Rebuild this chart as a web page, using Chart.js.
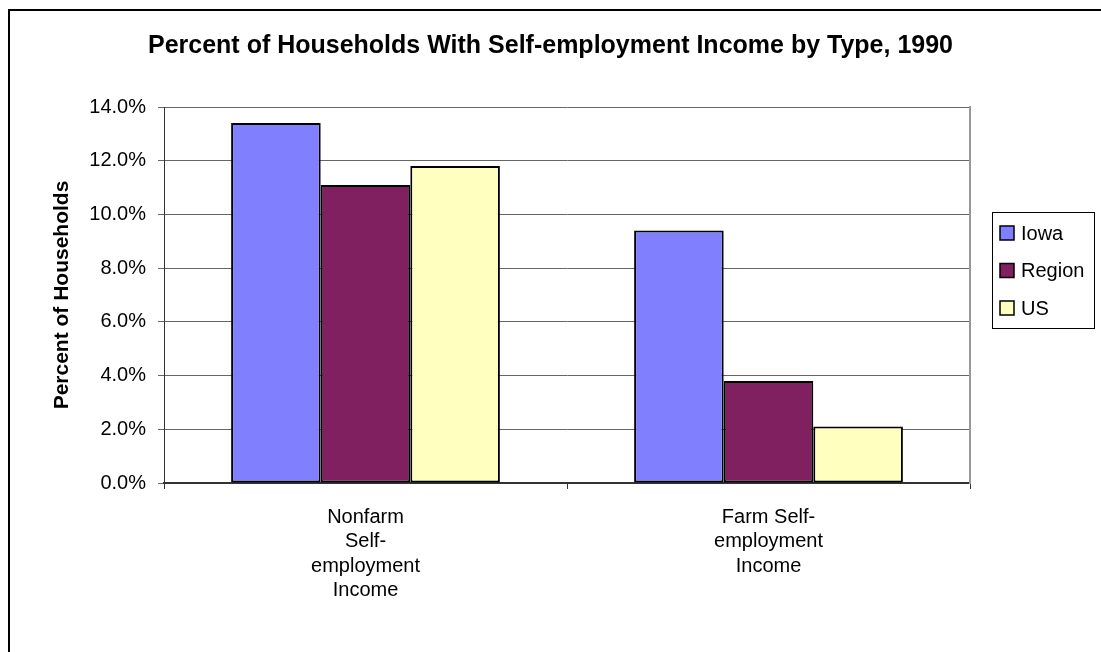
<!DOCTYPE html>
<html>
<head>
<meta charset="utf-8">
<title>Self-employment Income by Type, 1990</title>
<script src="https://cdn.jsdelivr.net/npm/chart.js@4"></script>
<style>
  html, body { margin: 0; padding: 0; background: #fff; }
  #wrap { width: 1101px; height: 652px; }
</style>
</head>
<body>
<div id="wrap"><canvas id="chart" width="1101" height="652"></canvas></div>
<script>
// Categories (multi-line axis labels)
const categories = [
  ['Nonfarm', 'Self-', 'employment', 'Income'],
  ['Farm Self-', 'employment', 'Income']
];
// Series values, percent of households
const seriesNames = ['Iowa', 'Region', 'US'];
const iowaValues = [13.4, 9.4];
const regionValues = [11.1, 3.8];
const usValues = [11.8, 2.1];
// Value axis
const yTickMax = 14;
const yTickStep = 2;

const FONT = "'Liberation Sans', Arial, Helvetica, sans-serif";
const seriesColors = ['#8080FF', '#802060', '#FFFFC0'];

// Outer frame of the chart
const framePlugin = {
  id: 'frame',
  beforeDraw(chart) {
    const ctx = chart.ctx;
    ctx.save();
    ctx.fillStyle = '#fff';
    ctx.fillRect(0, 0, chart.width, chart.height);
    ctx.strokeStyle = '#000';
    ctx.lineWidth = 2;
    ctx.strokeRect(9, 10, 2000, 2000);
    ctx.restore();
  }
};

// Boxed legend to the right of the plot
const boxLegendPlugin = {
  id: 'boxLegend',
  afterDraw(chart) {
    const ctx = chart.ctx;
    const x0 = 992, y0 = 212, w = 102, h = 116;
    ctx.save();
    ctx.strokeStyle = '#000';
    ctx.lineWidth = 1;
    ctx.strokeRect(x0 + 0.5, y0 + 0.5, w, h);
    ctx.font = '20px ' + FONT;
    ctx.textBaseline = 'middle';
    ctx.textAlign = 'left';
    chart.data.datasets.forEach((ds, i) => {
      const cy = y0 + 21 + i * 37.5;
      ctx.fillStyle = ds.backgroundColor;
      ctx.fillRect(1000, cy - 7, 14, 14);
      ctx.strokeStyle = '#000';
      ctx.lineWidth = 1.5;
      ctx.strokeRect(1000, cy - 7, 14, 14);
      ctx.fillStyle = '#000';
      ctx.fillText(ds.label, 1021, cy + 1);
    });
    ctx.restore();
  }
};

const data = {
  labels: categories,
  datasets: [
    { label: seriesNames[0], data: iowaValues, backgroundColor: seriesColors[0] },
    { label: seriesNames[1], data: regionValues, backgroundColor: seriesColors[1] },
    { label: seriesNames[2], data: usValues, backgroundColor: seriesColors[2] }
  ].map(d => Object.assign(d, {
    borderColor: '#000',
    borderWidth: 2,
    borderSkipped: false,
    categoryPercentage: 0.667,
    barPercentage: 1.0
  }))
};

new Chart(document.getElementById('chart'), {
  type: 'bar',
  data,
  plugins: [framePlugin, boxLegendPlugin],
  options: {
    responsive: false,
    animation: false,
    layout: { padding: 0 },
    plugins: {
      legend: { display: false },
      tooltip: { enabled: false },
      title: {
        display: true,
        text: 'Percent of Households With Self-employment Income by Type, 1990',
        color: '#000',
        font: { family: FONT, size: 25, weight: 'bold' },
        padding: { top: 31.5, bottom: 45.5 }
      }
    },
    scales: {
      x: {
        offset: true,
        afterFit(scale) { scale.height = 169; },
        grid: {
          display: true,
          offset: true,
          drawOnChartArea: false,
          drawTicks: true,
          tickLength: 6,
          color: '#333'
        },
        border: { display: true, color: '#333', width: 2 },
        ticks: {
          color: '#000',
          padding: 16,
          maxRotation: 0,
          autoSkip: false,
          font: { family: FONT, size: 20, lineHeight: 1.22 }
        }
      },
      y: {
        min: 0,
        max: yTickMax,
        afterFit(scale) { scale.width = 164; },
        grid: {
          color: '#666',
          lineWidth: 1,
          tickLength: 6,
          drawTicks: true
        },
        border: { display: true, color: '#333', width: 1 },
        ticks: {
          stepSize: yTickStep,
          color: '#000',
          padding: 12,
          font: { family: FONT, size: 20 },
          callback: v => v.toFixed(1) + '%'
        },
        title: {
          display: true,
          text: 'Percent of Households',
          color: '#000',
          font: { family: FONT, size: 21, weight: 'bold' },
          padding: { top: 50, bottom: 0 }
        }
      },
      yFrame: {
        position: 'right',
        min: 0,
        max: yTickMax,
        afterFit(scale) { scale.width = 131; },
        grid: { display: false, drawTicks: false },
        border: { display: true, color: '#999', width: 2 },
        ticks: { display: false }
      }
    }
  }
});
</script>
</body>
</html>
